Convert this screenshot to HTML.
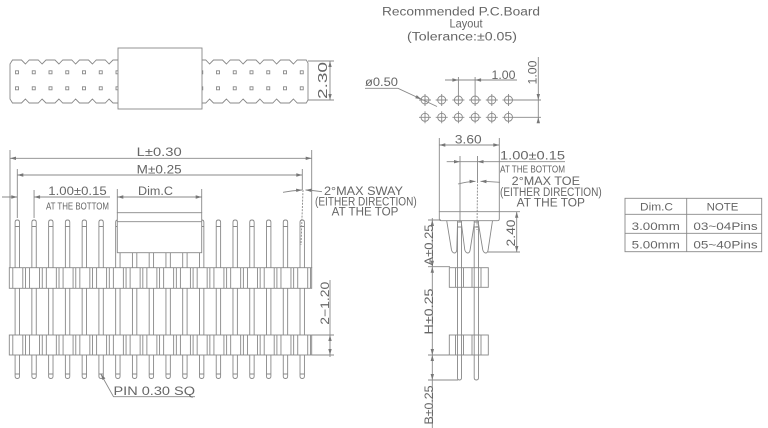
<!DOCTYPE html>
<html><head><meta charset="utf-8"><style>
html,body{margin:0;padding:0;background:#fff;}
svg{display:block;}
text{font-family:"Liberation Sans",sans-serif;fill:#666;}
</style></head><body>
<svg width="768" height="428" viewBox="0 0 768 428" xmlns="http://www.w3.org/2000/svg">
<defs>
<g id="fp" fill="none" stroke="#888" stroke-width="0.9">
<path d="M-2.2,267.7V222.2Q-2.2,220 0,220Q2.2,220 2.2,222.2V267.7M-2.2,226.5H2.2"/>
<path d="M-2.2,288.3V335M2.2,288.3V335"/>
<path d="M-2.2,355V376.3Q-2.2,378.5 0,378.5Q2.2,378.5 2.2,376.3V355M-2.2,374H2.2"/>
<path d="M-4.5,267.7V288.3M5.5,267.7V288.3M8.2,267.7V288.3M-4.5,335V355M5.5,335V355M8.2,335V355"/>
</g>
<g id="sq" fill="none" stroke="#888" stroke-width="0.9">
<rect x="-1.5" y="70.8" width="3" height="3"/><rect x="-1.5" y="86.8" width="3" height="3"/>
</g>
<g id="hole" fill="none" stroke="#888" stroke-width="0.9">
<circle cx="0" cy="0" r="4"/><path d="M-6,0H6M0,-6V6"/>
</g>
</defs>

<!-- ===== TOP STRIP ===== -->
<polygon fill="none" stroke="#888" stroke-width="0.9" points="10,64 12.5,60 21.5,60 25.4,64 29.25,60 38.25,60 42.1,64 46,60 55,60 58.9,64 62.75,60 71.75,60 75.6,64 79.5,60 88.5,60 92.4,64 96.25,60 105.25,60 109.1,64 113,60 122,60 196.75,60 205.75,60 209.6,64 213.5,60 222.5,60 226.4,64 230.25,60 239.25,60 243.1,64 247,60 256,60 259.9,64 263.75,60 272.75,60 276.6,64 280.5,60 289.5,60 293.4,64 297.25,60 306.25,60 308,63 308,100 306.25,103 297.25,103 293.4,99 289.5,103 280.5,103 276.6,99 272.75,103 263.75,103 259.9,99 256,103 247,103 243.1,99 239.25,103 230.25,103 226.4,99 222.5,103 213.5,103 209.6,99 205.75,103 196.75,103 122,103 113,103 109.1,99 105.25,103 96.25,103 92.4,99 88.5,103 79.5,103 75.6,99 71.75,103 62.75,103 58.9,99 55,103 46,103 42.1,99 38.25,103 29.25,103 25.4,99 21.5,103 12.5,103 10,99"/>
<use href="#sq" x="17"/><use href="#sq" x="33.75"/><use href="#sq" x="50.5"/><use href="#sq" x="67.25"/><use href="#sq" x="84"/><use href="#sq" x="100.75"/><use href="#sq" x="117.5"/>
<use href="#sq" x="201.25"/><use href="#sq" x="218"/><use href="#sq" x="234.75"/><use href="#sq" x="251.5"/><use href="#sq" x="268.25"/><use href="#sq" x="285"/><use href="#sq" x="301.75"/>
<rect x="118" y="48" width="84" height="61" fill="#fff" stroke="#888" stroke-width="0.9"/>
<path d="M308,61H334M308,100H334M330,61V100" stroke="#888" stroke-width="0.9" fill="none"/>
<g fill="#777"><polygon points="330,61 328.3,67 331.7,67"/><polygon points="330,100 328.3,94 331.7,94"/></g>
<text transform="translate(327,80.5) rotate(-90)" font-size="13" text-anchor="middle" textLength="37" lengthAdjust="spacingAndGlyphs">2.30</text>

<!-- ===== PCB LAYOUT ===== -->
<text x="461" y="15.7" font-size="11.5" text-anchor="middle" textLength="158" lengthAdjust="spacingAndGlyphs">Recommended  P.C.Board</text>
<text x="466" y="27.5" font-size="12" text-anchor="middle" textLength="33" lengthAdjust="spacingAndGlyphs">Layout</text>
<text x="462" y="40.5" font-size="11.5" text-anchor="middle" textLength="110" lengthAdjust="spacingAndGlyphs">(Tolerance:±0.05)</text>
<use href="#hole" x="425" y="100"/><use href="#hole" x="441.7" y="100"/><use href="#hole" x="458.4" y="100"/><use href="#hole" x="475.1" y="100"/><use href="#hole" x="491.8" y="100"/><use href="#hole" x="508.5" y="100"/>
<use href="#hole" x="425" y="117.3"/><use href="#hole" x="441.7" y="117.3"/><use href="#hole" x="458.4" y="117.3"/><use href="#hole" x="475.1" y="117.3"/><use href="#hole" x="491.8" y="117.3"/><use href="#hole" x="508.5" y="117.3"/>
<path d="M514.5,100H541M514.5,117.3H541M538.3,57V123M445,80H517M458.4,77V94M475.1,77V94M365,88.3H398L437,106.5" stroke="#888" stroke-width="0.9" fill="none"/>
<g fill="#777">
<polygon points="458.4,80 452.4,78.3 452.4,81.7"/><polygon points="475.1,80 481.1,78.3 481.1,81.7"/>
<polygon points="538.3,100 536.6,94 540,94"/><polygon points="538.3,117.3 536.6,123.3 540,123.3"/>
<polygon points="421.4,99.2 415.25,98.2 416.69,95.13"/>
</g>
<text x="491.5" y="79" font-size="11.5" textLength="24" lengthAdjust="spacingAndGlyphs">1.00</text>
<text transform="translate(536.5,72.5) rotate(-90)" font-size="11.5" text-anchor="middle" textLength="24" lengthAdjust="spacingAndGlyphs">1.00</text>
<text x="365" y="86" font-size="11.5" textLength="33" lengthAdjust="spacingAndGlyphs">ø0.50</text>

<!-- ===== FRONT VIEW ===== -->
<use href="#fp" x="17.3"/><use href="#fp" x="34.06"/><use href="#fp" x="50.82"/><use href="#fp" x="67.58"/><use href="#fp" x="84.34"/><use href="#fp" x="101.1"/><use href="#fp" x="117.86"/><use href="#fp" x="134.62"/><use href="#fp" x="151.38"/><use href="#fp" x="168.14"/><use href="#fp" x="184.9"/><use href="#fp" x="201.66"/><use href="#fp" x="218.42"/><use href="#fp" x="235.18"/><use href="#fp" x="251.94"/><use href="#fp" x="268.7"/><use href="#fp" x="285.46"/><use href="#fp" x="302.22"/>
<g fill="none" stroke="#888" stroke-width="0.9">
<rect x="9.3" y="267.7" width="302.4" height="20.6"/>
<rect x="9.3" y="335" width="302.4" height="20"/>
<rect x="117.3" y="212.7" width="84.4" height="40" fill="#fff"/>
<path d="M117.3,221.7H201.7"/>
<path d="M10,150V268M311.7,150V268M10,158.3H311.7M17.3,169V218M302.3,169V190M17.3,175H302.3M34.06,190V218M2,197H17.3M34.06,197H110M117.3,189V212.7M201.7,189V212.7M117.3,197H201.7"/>
<path d="M283,192.3Q292,190.5 302,190M305.5,190Q313,190.5 322,191.7"/>
<path d="M303,190L301,245" stroke-dasharray="2,1.2"/>
<path d="M312,335H334M312,355H334M330,280V357"/>
<path d="M100.8,374L113.5,396.7H195"/>
</g>
<g fill="#777">
<polygon points="10,158.3 16,156.6 16,160"/><polygon points="311.7,158.3 305.7,156.6 305.7,160"/>
<polygon points="17.3,175 23.3,173.3 23.3,176.7"/><polygon points="302.3,175 296.3,173.3 296.3,176.7"/>
<polygon points="17.3,197 11.3,195.3 11.3,198.7"/><polygon points="34.06,197 40.06,195.3 40.06,198.7"/>
<polygon points="117.3,197 123.3,195.3 123.3,198.7"/><polygon points="201.7,197 195.7,195.3 195.7,198.7"/>
<polygon points="302,190 296,188.6 296.3,192"/><polygon points="305.5,190 311.5,188.6 311.3,192"/>
<polygon points="330,335 328.3,341 331.7,341"/><polygon points="330,355 328.3,349 331.7,349"/>
<polygon points="101,374 105.4,378.4 102.45,380.06"/>
</g>
<text x="159.2" y="156" font-size="11.5" text-anchor="middle" textLength="45" lengthAdjust="spacingAndGlyphs">L±0.30</text>
<text x="159.2" y="173.3" font-size="11.5" text-anchor="middle" textLength="45" lengthAdjust="spacingAndGlyphs">M±0.25</text>
<text x="48.3" y="195" font-size="11.5" textLength="58.4" lengthAdjust="spacingAndGlyphs">1.00±0.15</text>
<text x="46" y="209.3" font-size="10" textLength="63" lengthAdjust="spacingAndGlyphs">AT THE BOTTOM</text>
<text x="138" y="195" font-size="11.5" textLength="35" lengthAdjust="spacingAndGlyphs">Dim.C</text>
<text x="324" y="195" font-size="11.5" textLength="79" lengthAdjust="spacingAndGlyphs">2°MAX  SWAY</text>
<text x="315" y="205.5" font-size="11.5" textLength="101.7" lengthAdjust="spacingAndGlyphs">(EITHER DIRECTION)</text>
<text x="331.7" y="215.5" font-size="11.5" textLength="66.7" lengthAdjust="spacingAndGlyphs">AT THE TOP</text>
<text transform="translate(329,303.3) rotate(-90)" font-size="12" text-anchor="middle" textLength="43" lengthAdjust="spacingAndGlyphs">2−1.20</text>
<text x="113.5" y="395" font-size="11.5" textLength="81.5" lengthAdjust="spacingAndGlyphs">PIN  0.30  SQ</text>

<!-- ===== SIDE VIEW ===== -->
<g fill="none" stroke="#888" stroke-width="0.9">
<path d="M439.3,138V211.7M499.3,138V211.7M439.3,145H499.3"/>
<path d="M439.3,211.7H499.3V218.7Q499.3,220.7 497.3,220.7H441.3Q439.3,220.7 439.3,218.7Z"/>
<path d="M446.7,220.7L451.5,250Q452.5,253 454.5,253Q456.3,253 456.8,250L457.5,224"/>
<path d="M461.5,224L464.8,250Q465.8,253 467.8,253Q469.6,253 470.1,250L474.2,224"/>
<path d="M478.5,224L482.8,250Q483.8,253 485.8,253Q487.6,253 488.1,250L492.5,220.7"/>
<path d="M457.5,221V267.7M461.5,221V267.7M474.2,221V267.7M478.5,221V267.7M457.5,222H461.5V227H457.5M474.2,222H478.5V227H474.2"/>
<path d="M460,156V222M477.5,156V181M446.7,161.7H565"/>
<path d="M458,184Q466,181.8 475.5,181.3M480.5,181.3Q490,181.5 500,182.3"/>
<path d="M477.5,181L477,230" stroke-dasharray="2,1.2"/>
<path d="M499.3,211.7H520M488,252H520M516.7,211.7V252"/>
<rect x="449.3" y="267.7" width="39" height="19.6"/>
<rect x="449.3" y="335" width="39" height="20"/>
<path d="M455.5,267.7V287.3M463.5,267.7V287.3M472,267.7V287.3M481,267.7V287.3M455.5,335V355M463.5,335V355M472,335V355M481,335V355"/>
<path d="M457.5,267.7V287.3M461.5,267.7V287.3M474.2,267.7V287.3M478.5,267.7V287.3M457.5,287.3V355M461.5,287.3V355M474.2,287.3V355M478.5,287.3V355"/>
<path d="M457.5,355V377.8Q457.5,380 459.5,380Q461.5,380 461.5,377.8V355M474.2,355V377.8Q474.2,380 476.35,380Q478.5,380 478.5,377.8V355"/>
<path d="M432.3,218V428M428,220H441M428,266.7H450M428,355H449M428,380H458"/>
</g>
<g fill="#777">
<polygon points="439.3,145 445.3,143.3 445.3,146.7"/><polygon points="499.3,145 493.3,143.3 493.3,146.7"/>
<polygon points="460,161.7 454,160 454,163.4"/><polygon points="477.5,161.7 483.5,160 483.5,163.4"/>
<polygon points="475.5,181.3 469.5,179.8 469.7,183.2"/><polygon points="480.5,181.3 486.5,179.8 486.4,183.2"/>
<polygon points="516.7,211.7 515,217.7 518.4,217.7"/><polygon points="516.7,252 515,246 518.4,246"/>
<polygon points="432.3,220 430.6,226 434,226"/><polygon points="432.3,266.7 430.6,260.7 434,260.7"/>
<polygon points="432.3,266.7 430.6,272.7 434,272.7"/><polygon points="432.3,355 430.6,349 434,349"/>
<polygon points="432.3,355 430.6,361 434,361"/><polygon points="432.3,380 430.6,374 434,374"/>
</g>
<text x="468.3" y="143.3" font-size="11.5" text-anchor="middle" textLength="26.7" lengthAdjust="spacingAndGlyphs">3.60</text>
<text x="500" y="159.3" font-size="11.5" textLength="65" lengthAdjust="spacingAndGlyphs">1.00±0.15</text>
<text x="500" y="172.3" font-size="10" textLength="65" lengthAdjust="spacingAndGlyphs">AT THE BOTTOM</text>
<text x="511.7" y="185" font-size="11.5" textLength="68.3" lengthAdjust="spacingAndGlyphs">2°MAX  TOE</text>
<text x="500" y="196" font-size="11.5" textLength="101.7" lengthAdjust="spacingAndGlyphs">(EITHER DIRECTION)</text>
<text x="516.7" y="206.7" font-size="11.5" textLength="68.3" lengthAdjust="spacingAndGlyphs">AT THE TOP</text>
<text transform="translate(515,233) rotate(-90)" font-size="11.5" text-anchor="middle" textLength="27" lengthAdjust="spacingAndGlyphs">2.40</text>
<text transform="translate(433,245) rotate(-90)" font-size="11.5" text-anchor="middle" textLength="41" lengthAdjust="spacingAndGlyphs">A±0.25</text>
<text transform="translate(433,311.5) rotate(-90)" font-size="11.5" text-anchor="middle" textLength="46" lengthAdjust="spacingAndGlyphs">H±0.25</text>
<text transform="translate(433,405) rotate(-90)" font-size="11.5" text-anchor="middle" textLength="39" lengthAdjust="spacingAndGlyphs">B±0.25</text>

<!-- ===== TABLE ===== -->
<g fill="none" stroke="#888" stroke-width="0.9">
<rect x="625" y="198.3" width="136.7" height="53.4"/>
<path d="M625,214.3H761.7M625,233.3H761.7M686.7,198.3V251.7"/>
</g>
<text x="656.5" y="210.7" font-size="11" text-anchor="middle" textLength="33" lengthAdjust="spacingAndGlyphs">Dim.C</text>
<text x="722.5" y="210.7" font-size="11" text-anchor="middle" textLength="31.7" lengthAdjust="spacingAndGlyphs">NOTE</text>
<text x="655.8" y="230" font-size="11" text-anchor="middle" textLength="48.3" lengthAdjust="spacingAndGlyphs">3.00mm</text>
<text x="725.5" y="230" font-size="11" text-anchor="middle" textLength="64.3" lengthAdjust="spacingAndGlyphs">03~04Pins</text>
<text x="655.8" y="248.3" font-size="11" text-anchor="middle" textLength="48.3" lengthAdjust="spacingAndGlyphs">5.00mm</text>
<text x="725.5" y="248.3" font-size="11" text-anchor="middle" textLength="64.3" lengthAdjust="spacingAndGlyphs">05~40Pins</text>
</svg>
</body></html>
